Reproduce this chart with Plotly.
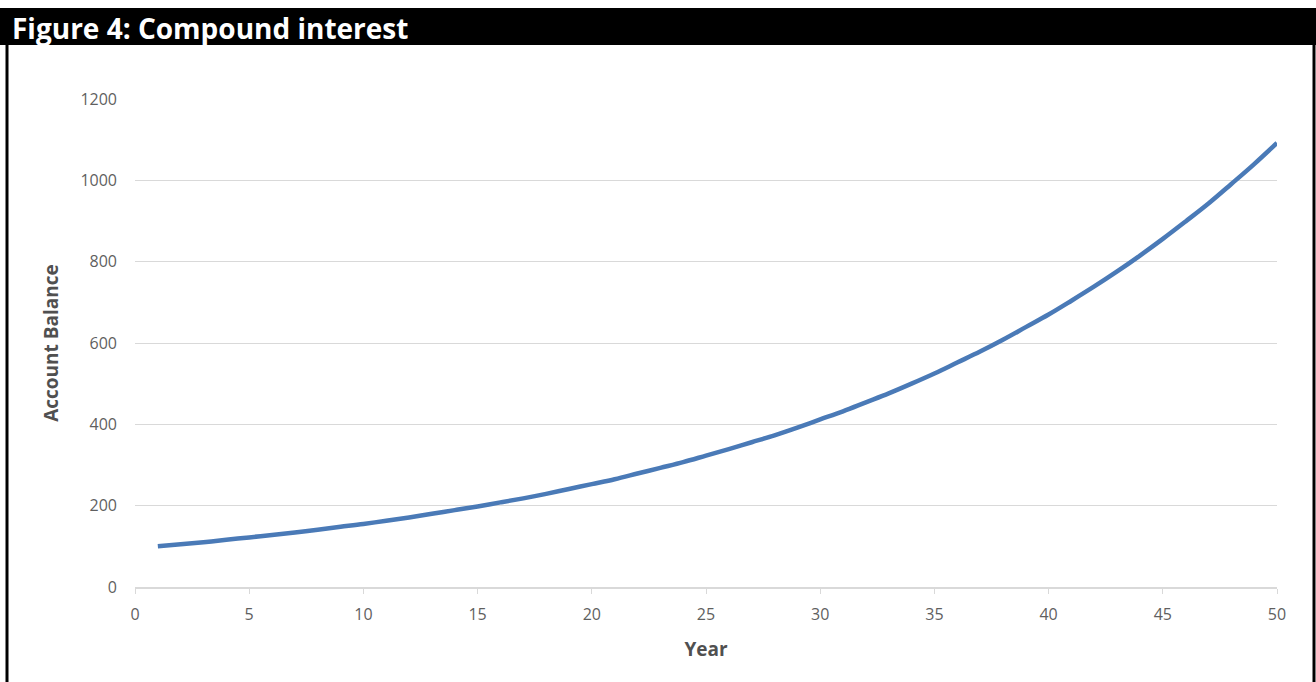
import plotly.graph_objects as go

years = list(range(1, 51))
balance = [100, 105, 110, 116, 122, 128, 134, 141, 148, 155,
           163, 171, 180, 189, 198, 208, 218, 229, 241, 253,
           265, 279, 293, 307, 323, 339, 356, 373, 392, 412,
           432, 454, 476, 500, 525, 552, 579, 608, 639, 670,
           704, 739, 776, 815, 856, 899, 943, 991, 1040, 1092]
x_ticks = [0, 5, 10, 15, 20, 25, 30, 35, 40, 45, 50]
y_ticks = [0, 200, 400, 600, 800, 1000, 1200]

W, H = 1316, 682
L, R, T, B = 135, 39, 99, 95
PW, PH = W - L - R, H - T - B

def px(xp):
    return (xp - L) / PW

def py(yp):
    return (H - B - yp) / PH

fig = go.Figure()
fig.add_trace(go.Scatter(
    x=years, y=balance, mode="lines",
    line=dict(color="#4A7AB7", width=4.5, shape="spline"),
    hoverinfo="x+y", showlegend=False, cliponaxis=False,
))

tick_font = dict(family="Open Sans", size=16, color="#5F5F5F")
title_font = dict(family="Open Sans", size=19, color="#505050")

fig.update_layout(
    width=W, height=H,
    margin=dict(l=L, r=R, t=T, b=B),
    paper_bgcolor="white", plot_bgcolor="white",
    xaxis=dict(
        range=[0, 50], tickvals=x_ticks, ticktext=[str(v) for v in x_ticks],
        showgrid=False, zeroline=False,
        showline=True, linecolor="#D9D9D9", linewidth=2,
        ticks="outside", ticklen=5, tickcolor="#D9D9D9", tickwidth=1,
        tickfont=tick_font, ticklabelstandoff=7,
        title=dict(text="<b>Year</b>", font=title_font, standoff=18),
    ),
    yaxis=dict(
        range=[0, 1200], tickvals=y_ticks, ticktext=[str(v) for v in y_ticks],
        showgrid=True, gridcolor="#D9D9D9", gridwidth=1,
        zeroline=False, showline=False, ticks="",
        tickfont=tick_font, ticklabelstandoff=17,
        title=dict(text="<b>Account Balance</b>", font=title_font, standoff=16),
    ),
    shapes=[
        dict(type="rect", xref="paper", yref="paper",
             x0=px(0), x1=px(1316), y0=py(45), y1=py(8),
             fillcolor="black", line=dict(width=0), layer="above"),
        dict(type="line", xref="paper", yref="paper",
             x0=px(7), x1=px(7), y0=py(45), y1=py(690),
             line=dict(color="black", width=3)),
        dict(type="line", xref="paper", yref="paper",
             x0=px(1314), x1=px(1314), y0=py(45), y1=py(690),
             line=dict(color="black", width=3)),
    ],
    annotations=[
        dict(text="<b>Figure 4: Compound interest</b>", xref="paper", yref="paper",
             x=px(10), y=py(28), xanchor="left", yanchor="middle", showarrow=False,
             font=dict(family="Open Sans", size=28, color="white")),
    ],
)

fig.write_html("out.html")
